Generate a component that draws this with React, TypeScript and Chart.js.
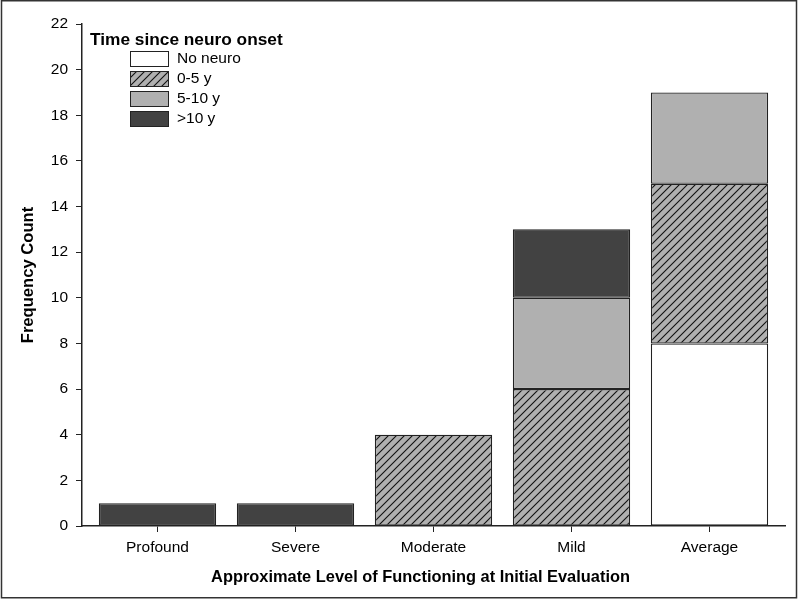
import React, { useEffect, useRef } from "react";
import { Chart, registerables } from "chart.js";

Chart.register(...registerables);

const categories = ["Profound", "Severe", "Moderate", "Mild", "Average"];
const seriesNames = ["No neuro", "0-5 y", "5-10 y", ">10 y"];
const noNeuro = [0, 0, 0, 0, 8];
const zeroToFive = [0, 0, 4, 6, 7];
const fiveToTen = [0, 0, 0, 4, 4];
const overTen = [1, 1, 0, 3, 0];
const yTicks = [0, 2, 4, 6, 8, 10, 12, 14, 16, 18, 20, 22];
const xTitle = "Approximate Level of Functioning at Initial Evaluation";
const yTitle = "Frequency Count";
const legendTitle = "Time since neuro onset";

const FONT = "'Liberation Sans', Arial, sans-serif";
const EDGE = "#222222";

function makeHatch(): CanvasPattern | string {
  const c = document.createElement("canvas");
  c.width = 8;
  c.height = 8;
  const g = c.getContext("2d");
  if (!g) return "#b0b0b0";
  g.fillStyle = "#b0b0b0";
  g.fillRect(0, 0, 8, 8);
  g.strokeStyle = "#111111";
  g.lineWidth = 1.1;
  g.beginPath();
  g.moveTo(-1, 9);
  g.lineTo(9, -1);
  g.moveTo(-1, 1);
  g.lineTo(1, -1);
  g.moveTo(7, 9);
  g.lineTo(9, 7);
  g.stroke();
  const p = g.createPattern(c, "repeat");
  return p || "#b0b0b0";
}

export default function App() {
  const ref = useRef<HTMLCanvasElement | null>(null);

  useEffect(() => {
    document.body.style.margin = "0";
    const canvas = ref.current;
    if (!canvas) return;
    const hatch = makeHatch();
    const fills: any[] = ["#ffffff", hatch, "#b0b0b0", "#424242"];
    const values = [noNeuro, zeroToFive, fiveToTen, overTen];

    const bgPlugin = {
      id: "bgFrame",
      beforeDraw(chart: any) {
        const ctx = chart.ctx;
        ctx.save();
        ctx.fillStyle = "#ffffff";
        ctx.fillRect(0, 0, chart.width, chart.height);
        ctx.strokeStyle = "#333333";
        ctx.lineWidth = 1.5;
        ctx.strokeRect(1.5, 0.75, 795, 597);
        ctx.restore();
      },
    };

    const textPlugin = {
      id: "customText",
      afterDraw(chart: any) {
        const ctx = chart.ctx;
        ctx.save();
        // x axis title
        ctx.fillStyle = "#000000";
        ctx.font = `bold 16.4px ${FONT}`;
        ctx.textBaseline = "middle";
        ctx.textAlign = "center";
        ctx.fillText(xTitle, 420.5, 577);
        // legend
        ctx.textAlign = "left";
        ctx.font = `bold 17.3px ${FONT}`;
        ctx.fillText(legendTitle, 90, 40);
        ctx.font = `15.5px ${FONT}`;
        chart.data.datasets.forEach((ds: any, i: number) => {
          const y = 51 + i * 20;
          ctx.fillStyle = ds.backgroundColor;
          ctx.fillRect(130, y, 39, 15);
          ctx.strokeStyle = EDGE;
          ctx.lineWidth = 1;
          ctx.strokeRect(130.5, y + 0.5, 38, 15);
          ctx.fillStyle = "#000000";
          ctx.fillText(ds.label, 177, y + 8);
        });
        ctx.restore();
      },
    };

    const chart = new Chart(canvas, {
      type: "bar",
      data: {
        datasets: seriesNames.map((name, k) => ({
          label: name,
          data: categories.map((_, i) => ({ x: i, y: values[k][i] })),
          backgroundColor: fills[k],
          borderColor: EDGE,
          borderWidth: 1.3,
          borderSkipped: false,
          categoryPercentage: 1,
          barPercentage: 0.85,
        })),
      },
      options: {
        animation: false,
        responsive: false,
        maintainAspectRatio: false,
        layout: { padding: { left: 0, right: 15, top: 24, bottom: 0 } },
        plugins: {
          legend: { display: false },
          tooltip: { enabled: false },
        },
        scales: {
          x: {
            type: "linear",
            stacked: true,
            offset: false,
            min: -0.547,
            max: 4.547,
            afterBuildTicks(scale: any) {
              scale.ticks = categories.map((_, i) => ({ value: i }));
            },
            afterFit(scale: any) {
              scale.height = 75;
            },
            ticks: {
              autoSkip: false,
              maxRotation: 0,
              padding: 6,
              color: "#000000",
              font: { family: FONT, size: 15.5 },
              callback: (v: any) => categories[Number(v)] ?? "",
            },
            grid: {
              offset: false,
              drawOnChartArea: false,
              drawTicks: true,
              tickLength: 6,
              color: EDGE,
              lineWidth: 1,
            },
            border: { display: true, color: EDGE, width: 1.5 },
            title: { display: false },
          },
          y: {
            type: "linear",
            stacked: true,
            min: 0,
            max: 22,
            afterBuildTicks(scale: any) {
              scale.ticks = yTicks.map((v) => ({ value: v }));
            },
            afterFit(scale: any) {
              scale.width = 82;
            },
            ticks: {
              padding: 8,
              color: "#000000",
              font: { family: FONT, size: 15.5 },
            },
            grid: {
              drawOnChartArea: false,
              drawTicks: true,
              tickLength: 6,
              color: EDGE,
              lineWidth: 1,
            },
            border: { display: true, color: EDGE, width: 1.5 },
            title: {
              display: true,
              text: yTitle,
              color: "#000000",
              font: { family: FONT, size: 16.6, weight: "bold" },
              padding: { top: 18, bottom: 0 },
            },
          },
        },
      },
      plugins: [bgPlugin, textPlugin],
    });

    return () => chart.destroy();
  }, []);

  return (
    <div style={{ position: "absolute", left: 0, top: 0, width: 800, height: 601 }}>
      <canvas ref={ref} width={800} height={601} style={{ width: 800, height: 601, display: "block" }} />
    </div>
  );
}
